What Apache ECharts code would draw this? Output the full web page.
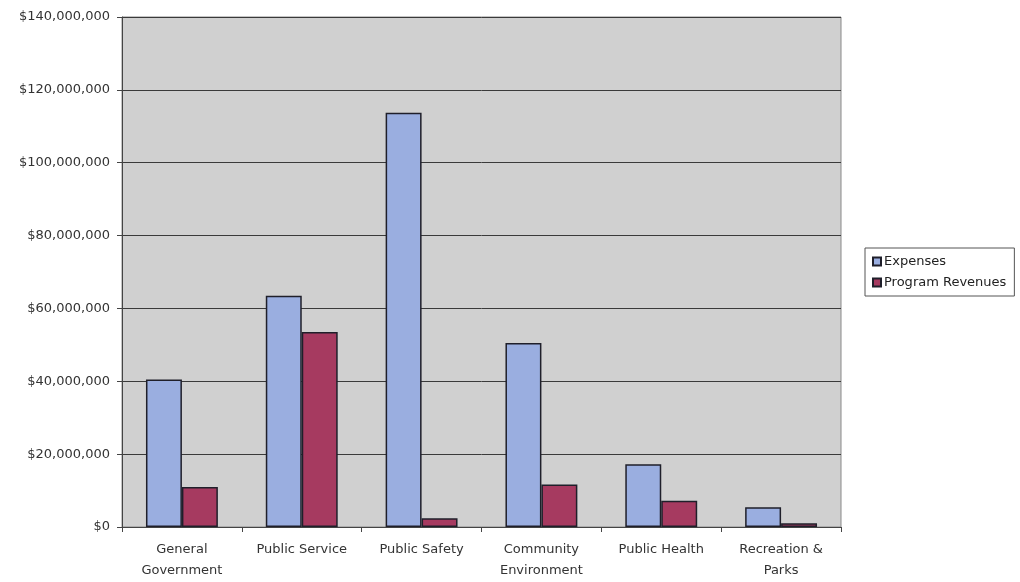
<!DOCTYPE html>
<html>
<head>
<meta charset="utf-8">
<script src="https://cdn.jsdelivr.net/npm/echarts@6/dist/echarts.min.js"></script>
<style>
  html, body { margin: 0; padding: 0; background: #fff; }
  #chart { width: 1020px; height: 582px; }
</style>
</head>
<body>
<div id="chart"></div>
<script>
// Program expenses and revenues by function
const categories = [
  'General\nGovernment',
  'Public Service',
  'Public Safety',
  'Community\nEnvironment',
  'Public Health',
  'Recreation &\nParks'
];
const expenses = [40500000, 63500000, 113700000, 50500000, 17200000, 5400000];
const programRevenues = [11000000, 53500000, 2400000, 11700000, 7200000, 1000000];
const yTicks = { min: 0, max: 140000000, interval: 20000000 };

function money(v) {
  return '$' + Math.round(v).toString().replace(/\B(?=(\d{3})+(?!\d))/g, ',');
}

const FONT = 'DejaVu Sans, Verdana, sans-serif';
const chart = echarts.init(document.getElementById('chart'), null, { renderer: 'canvas' });

chart.setOption({
  animation: false,
  backgroundColor: '#fff',
  textStyle: { fontFamily: FONT, fontSize: 13, color: '#333' },
  grid: {
    left: 122, right: 179, top: 17, bottom: 55,
    show: true,
    backgroundColor: '#d0d0d0',
    borderColor: '#8a8a8a',
    borderWidth: 1
  },
  legend: {
    orient: 'vertical',
    left: 865, top: 248,
    padding: [7, 8, 7, 7],
    itemGap: 8,
    itemWidth: 8, itemHeight: 8,
    icon: 'rect',
    backgroundColor: '#fff',
    borderColor: '#555',
    borderWidth: 1,
    borderRadius: 0,
    textStyle: { fontFamily: FONT, fontSize: 13, color: '#222', padding: [0, 0, 0, -2] },
    data: ['Expenses', 'Program Revenues']
  },
  xAxis: {
    type: 'category',
    data: categories,
    axisLine: { lineStyle: { color: '#444', width: 1 } },
    axisTick: { show: true, length: 5, lineStyle: { color: '#444' } },
    axisLabel: { color: '#333', fontSize: 13, lineHeight: 21, margin: 12, fontFamily: FONT },
    splitLine: { show: false }
  },
  yAxis: {
    type: 'value',
    min: yTicks.min, max: yTicks.max, interval: yTicks.interval,
    axisLine: { show: true, lineStyle: { color: '#444', width: 1 } },
    axisTick: { show: true, length: 5, lineStyle: { color: '#444' } },
    axisLabel: { color: '#333', fontSize: 13, margin: 12, formatter: money, fontFamily: FONT },
    splitLine: { show: true, lineStyle: { color: '#3a3a3a', width: 1 } }
  },
  series: [
    {
      name: 'Expenses',
      type: 'bar',
      data: expenses,
      barGap: '0%',
      barCategoryGap: '40%',
      itemStyle: { color: '#9aaee0', borderColor: '#1f1f2a', borderWidth: 1.5 }
    },
    {
      name: 'Program Revenues',
      type: 'bar',
      data: programRevenues,
      barGap: '0%',
      barCategoryGap: '40%',
      itemStyle: { color: '#a63a60', borderColor: '#1f1f2a', borderWidth: 1.5 }
    }
  ]
});
</script>
</body>
</html>
